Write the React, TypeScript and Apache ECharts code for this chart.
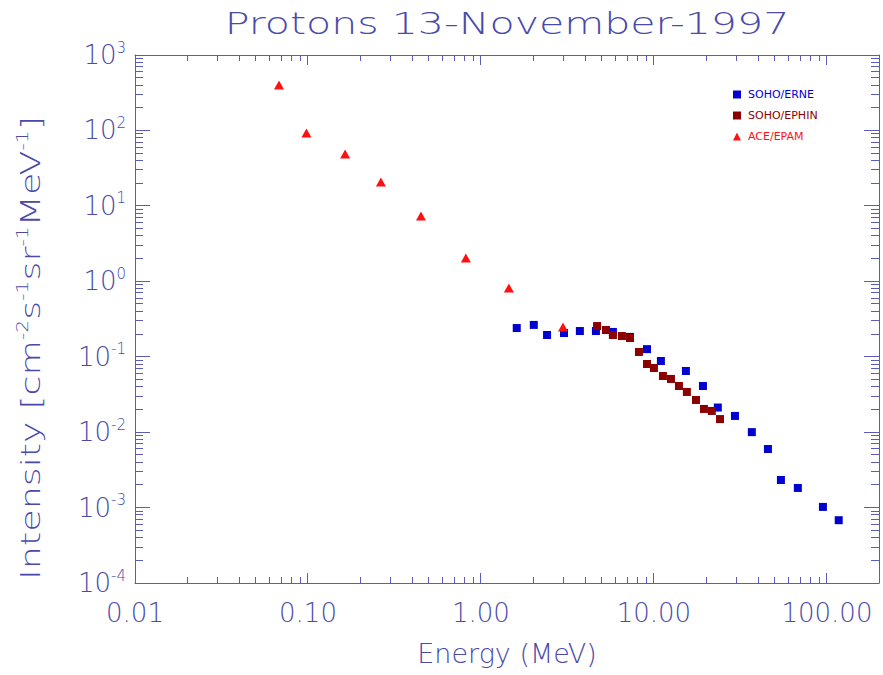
import React, { useEffect, useRef } from "react";
import * as echarts from "echarts";

// Proton spectra, 13 November 1997 — energy in MeV, intensity in cm^-2 s^-1 sr^-1 MeV^-1
const erneEnergy = [1.61, 2.02, 2.41, 3.02, 3.73, 4.62, 5.79, 7.27, 9.12, 10.97, 15.3, 19.2, 23.4, 29.4, 36.8, 45.6, 54.2, 67.9, 94.8, 117];
const erneIntensity = [0.24, 0.264, 0.194, 0.206, 0.219, 0.219, 0.213, 0.183, 0.126, 0.0877, 0.0647, 0.0409, 0.0212, 0.0164, 0.01, 0.00598, 0.00232, 0.00182, 0.00102, 0.00068];

const ephinEnergy = [4.69, 5.28, 5.79, 6.53, 7.27, 8.19, 9.12, 10.0, 11.27, 12.54, 13.95, 15.5, 17.5, 19.45, 21.6, 24.1];
const ephinIntensity = [0.255, 0.226, 0.194, 0.188, 0.177, 0.1156, 0.08, 0.0708, 0.0555, 0.0507, 0.0409, 0.0341, 0.0267, 0.0203, 0.0191, 0.0149];

const epamEnergy = [0.068, 0.098, 0.164, 0.264, 0.45, 0.818, 1.45, 2.98];
const epamIntensity = [400, 92.5, 48.7, 20.7, 7.34, 2.04, 0.815, 0.248];

const seriesNames = ["SOHO/ERNE", "SOHO/EPHIN", "ACE/EPAM"];
const seriesColors = ["#0000d0", "#8c0000", "#ff1010"];

const xRange = [0.01, 200];
const yRange = [1e-4, 1e3];

// Decades carrying major ticks, and the 2..9 multipliers for minor ticks
const xDecades = [0.01, 0.1, 1, 10, 100];
const yDecades = [1e-4, 1e-3, 1e-2, 1e-1, 1, 10, 100, 1000];
const minorSteps = [2, 3, 4, 5, 6, 7, 8, 9];

const TEXT = "#4a4aaa";
const AXIS = "#5c5cb8";
const FONT = '"DejaVu Sans", sans-serif';

const GRID = { left: 135, top: 55, right: 4, bottom: 92 };
const WIDTH = 883;
const HEIGHT = 675;

const X_MAJOR = 10, X_MINOR = 6, Y_MAJOR = 15, Y_MINOR = 8;

const pairs = (xs: number[], ys: number[]) => xs.map((x, i) => [x, ys[i]]);

// Tick positions along one axis: [value, isMajor]
function tickValues(decades: number[], range: number[]): [number, boolean][] {
  const out: [number, boolean][] = [];
  decades.forEach((d) => {
    if (d > range[0] * 1.0001 && d < range[1] * 0.9999) out.push([d, true]);
    minorSteps.forEach((m) => {
      const v = m * d;
      if (v > range[0] * 1.0001 && v < range[1] * 0.9999) out.push([v, false]);
    });
  });
  return out;
}

export default function App() {
  const ref = useRef<HTMLDivElement>(null);

  useEffect(() => {
    if (!ref.current) return;
    const chart = echarts.init(ref.current, null, { renderer: "svg" });

    const ls = () => ({ color: AXIS, width: 1 });
    const hidden = { show: false };

    const xFrame = (pos: "bottom" | "top", labels: boolean) => ({
      type: "log" as const,
      logBase: 10,
      min: xRange[0],
      max: xRange[1],
      position: pos,
      axisLine: { show: true, lineStyle: ls() },
      axisTick: hidden,
      minorTick: hidden,
      splitLine: hidden,
      minorSplitLine: hidden,
      axisLabel: labels
        ? {
            show: true,
            margin: 17,
            color: TEXT,
            fontSize: 26,
            fontFamily: FONT,
            fontWeight: 200,
            showMaxLabel: false,
            formatter: (v: number) => v.toFixed(2),
          }
        : hidden,
      ...(labels
        ? {
            name: "Energy (MeV)",
            nameLocation: "middle" as const,
            nameGap: 57,
            nameTextStyle: { color: TEXT, fontSize: 27, fontFamily: FONT, fontWeight: 200 },
          }
        : {}),
    });

    const yFrame = (pos: "left" | "right", labels: boolean) => ({
      type: "log" as const,
      logBase: 10,
      min: yRange[0],
      max: yRange[1],
      position: pos,
      axisLine: { show: true, lineStyle: ls() },
      axisTick: hidden,
      minorTick: hidden,
      splitLine: hidden,
      minorSplitLine: hidden,
      axisLabel: labels
        ? {
            show: true,
            margin: 9,
            formatter: (v: number) => `{b|10}{s|${Math.round(Math.log10(v))}}`,
            rich: {
              b: { fontSize: 26, lineHeight: 30, color: TEXT, fontFamily: FONT, fontWeight: 200 },
              s: { fontSize: 15, lineHeight: 16, color: TEXT, fontFamily: FONT, fontWeight: 200, verticalAlign: "top" },
            },
          }
        : hidden,
    });

    const supStyle = { fontSize: 15, lineHeight: 16, fill: TEXT, color: TEXT, fontFamily: FONT, fontWeight: 200, verticalAlign: "top" };
    const baseStyle = { fontSize: 27, lineHeight: 32, fill: TEXT, color: TEXT, fontFamily: FONT, fontWeight: 200 };

    const titleGraphics = [
      {
        type: "text",
        x: 507,
        y: 24,
        scaleX: 1.37,
        style: {
          text: "Protons 13-November-1997",
          fill: TEXT,
          fontSize: 30,
          fontFamily: FONT,
          fontWeight: 200,
          align: "center",
          verticalAlign: "middle",
          textAlign: "center",
          textVerticalAlign: "middle",
        },
      },
      {
        type: "text",
        x: 31,
        y: 348,
        rotation: Math.PI / 2,
        scaleX: 1.35,
        style: {
          text: "{b|Intensity [cm}{s|-2}{b|s}{s|-1}{b|sr}{s|-1}{b|MeV}{s|-1}{b|]}",
          rich: { b: baseStyle, s: supStyle },
          fill: TEXT,
          align: "center",
          verticalAlign: "middle",
          textAlign: "center",
          textVerticalAlign: "middle",
        },
      },
    ];

    chart.setOption({
      animation: false,
      backgroundColor: "#ffffff",
      grid: { ...GRID, containLabel: false },
      xAxis: [xFrame("bottom", true), xFrame("top", false)],
      yAxis: [yFrame("left", true), yFrame("right", false)],
      legend: {
        orient: "vertical",
        left: 728,
        top: 84,
        itemWidth: 8,
        itemHeight: 8,
        itemGap: 10,
        textStyle: { fontSize: 11, fontFamily: FONT, padding: [0, 0, 0, 2] },
        data: seriesNames.map((n, i) => ({ name: n, textStyle: { color: seriesColors[i] } })),
      },
      series: [
        {
          type: "scatter",
          name: seriesNames[0],
          xAxisIndex: 0,
          yAxisIndex: 0,
          symbol: "rect",
          symbolSize: 8,
          itemStyle: { color: seriesColors[0], opacity: 1 },
          data: pairs(erneEnergy, erneIntensity),
        },
        {
          type: "scatter",
          name: seriesNames[1],
          xAxisIndex: 0,
          yAxisIndex: 0,
          symbol: "rect",
          symbolSize: 8,
          itemStyle: { color: seriesColors[1], opacity: 1 },
          data: pairs(ephinEnergy, ephinIntensity),
        },
        {
          type: "scatter",
          name: seriesNames[2],
          xAxisIndex: 0,
          yAxisIndex: 0,
          symbol: "triangle",
          symbolSize: [10, 9],
          itemStyle: { color: seriesColors[2], opacity: 1 },
          data: pairs(epamEnergy, epamIntensity),
        },
      ],
      graphic: titleGraphics,
    });

    // Plot rectangle and log mapping of the frame, used to place the inward tick marks
    const left = GRID.left;
    const right = WIDTH - GRID.right;
    const top = GRID.top;
    const bottom = HEIGHT - GRID.bottom;
    const lx = [Math.log10(xRange[0]), Math.log10(xRange[1])];
    const ly = [Math.log10(yRange[0]), Math.log10(yRange[1])];
    const mapX = (v: number) => left + ((Math.log10(v) - lx[0]) / (lx[1] - lx[0])) * (right - left);
    const mapY = (v: number) => bottom - ((Math.log10(v) - ly[0]) / (ly[1] - ly[0])) * (bottom - top);

    // Prefer the chart's own conversion when it agrees with the frame mapping
    const pick = (axis: "x" | "y", v: number) => {
      const expected = axis === "x" ? mapX(v) : mapY(v);
      const finder = axis === "x" ? { xAxisIndex: 0 } : { yAxisIndex: 0 };
      for (const candidate of [v, Math.log10(v)]) {
        let p = NaN;
        try {
          const r: any = chart.convertToPixel(finder as any, candidate as any);
          p = Array.isArray(r) ? Number(r[axis === "x" ? 0 : 1]) : Number(r);
        } catch (e) {
          p = NaN;
        }
        if (Number.isFinite(p) && Math.abs(p - expected) < 1.5) return p;
      }
      return expected;
    };

    const crisp = (v: number) => Math.round(v - 0.5) + 0.5;
    const stroke = { stroke: AXIS, lineWidth: 1 };
    const tickLines: any[] = [];
    tickValues(xDecades, xRange).forEach(([v, major]) => {
      const x = crisp(pick("x", v));
      const len = major ? X_MAJOR : X_MINOR;
      tickLines.push({ type: "line", z: 50, silent: true, shape: { x1: x, y1: bottom, x2: x, y2: bottom - len }, style: stroke });
      tickLines.push({ type: "line", z: 50, silent: true, shape: { x1: x, y1: top, x2: x, y2: top + len }, style: stroke });
    });
    tickValues(yDecades, yRange).forEach(([v, major]) => {
      const y = crisp(pick("y", v));
      const len = major ? Y_MAJOR : Y_MINOR;
      tickLines.push({ type: "line", z: 50, silent: true, shape: { x1: left, y1: y, x2: left + len, y2: y }, style: stroke });
      tickLines.push({ type: "line", z: 50, silent: true, shape: { x1: right, y1: y, x2: right - len, y2: y }, style: stroke });
    });
    chart.setOption({ graphic: [...titleGraphics, ...tickLines] });

    return () => chart.dispose();
  }, []);

  return (
    <div
      ref={ref}
      style={{ position: "fixed", left: 0, top: 0, width: WIDTH, height: HEIGHT, background: "#ffffff" }}
    />
  );
}
